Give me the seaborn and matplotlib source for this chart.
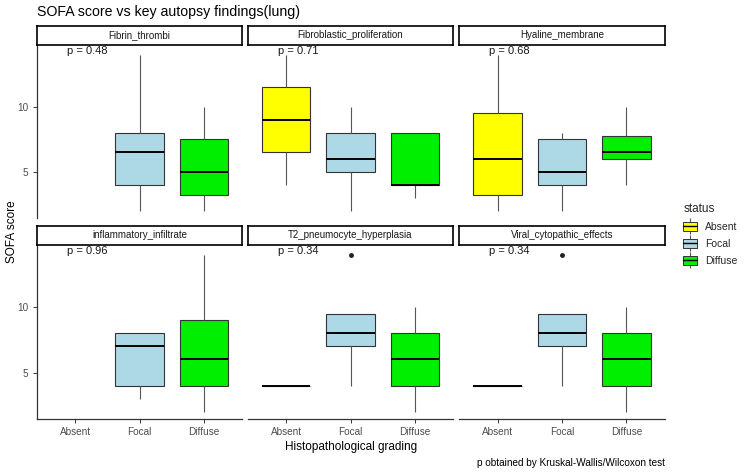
import pandas as pd
import matplotlib.pyplot as plt
import seaborn as sns
from matplotlib.patches import Patch
from matplotlib.lines import Line2D

# data (SOFA scores per grading group)
findings = ['Fibrin_thrombi', 'Fibroblastic_proliferation', 'Hyaline_membrane',
            'inflammatory_infiltrate', 'T2_pneumocyte_hyperplasia', 'Viral_cytopathic_effects']
p_values = ['0.48', '0.71', '0.68', '0.96', '0.34', '0.34']
status_levels = ['Absent', 'Focal', 'Diffuse']

fibrin_thrombi = {'Absent': [], 'Focal': [2, 4, 4, 6, 7, 8, 8, 14], 'Diffuse': [2, 3, 4, 6, 8, 10]}
fibroblastic = {'Absent': [4, 6, 8, 10, 12, 14], 'Focal': [2, 4, 5, 5, 6, 7, 8, 9, 10], 'Diffuse': [3, 4, 4, 8, 8]}
hyaline = {'Absent': [2, 3, 4, 8, 10, 14], 'Focal': [2, 4, 4, 6, 8, 8], 'Diffuse': [4, 6, 6, 7, 8, 10]}
inflammatory = {'Absent': [], 'Focal': [3, 4, 7, 8, 8], 'Diffuse': [2, 4, 4, 6, 8, 10, 14]}
t2_pneumocyte = {'Absent': [4, 4], 'Focal': [4, 7, 8, 9.5, 14], 'Diffuse': [2, 4, 6, 8, 10]}
viral_cyto = {'Absent': [4, 4], 'Focal': [4, 7, 8, 9.5, 14], 'Diffuse': [2, 4, 6, 8, 10]}

groups = [fibrin_thrombi, fibroblastic, hyaline, inflammatory, t2_pneumocyte, viral_cyto]
palette = {'Absent': '#FFFF00', 'Focal': '#ADD8E6', 'Diffuse': '#00EE00'}

rows = []
for name, g in zip(findings, groups):
    for st in status_levels:
        for v in g[st]:
            rows.append({'finding': name, 'status': st, 'score': v})
data = pd.DataFrame(rows)

sns.set_theme(style='white')
plt.rcParams['font.family'] = ['Liberation Sans', 'DejaVu Sans']

W, H = 750, 475
fig = plt.figure(figsize=(7.5, 4.75), dpi=100)

def frac(x0, y0, x1, y1):
    return [x0 / W, 1 - y1 / H, (x1 - x0) / W, (y1 - y0) / H]

cols = [(37, 242), (248, 453), (459, 665)]
rows_px = [((26, 45), (45, 218)), ((226, 245), (245, 419))]

for i, name in enumerate(findings):
    r, c = divmod(i, 3)
    x0, x1 = cols[c]
    (s0, s1), (p0, p1) = rows_px[r]
    ax = fig.add_axes(frac(x0, p0, x1, p1))
    sub = data[data['finding'] == name]
    sns.boxplot(data=sub, x='status', y='score', hue='status', order=status_levels,
                hue_order=status_levels, palette=palette, saturation=1, width=0.75,
                linecolor='#333333', linewidth=0.8, showcaps=False, legend=False,
                whiskerprops=dict(color='#555555', lw=0.8),
                medianprops=dict(color='black', lw=1.4),
                flierprops=dict(marker='o', markersize=2.5, markerfacecolor='#222222',
                                markeredgecolor='#222222'),
                ax=ax)
    ax.set_xlim(-0.6, 2.6)
    ax.set_ylim(1.45, 14.75)
    ax.set_yticks([5, 10])
    ax.set_xlabel('')
    ax.set_ylabel('')
    for sp in ['top', 'right']:
        ax.spines[sp].set_visible(False)
    ax.spines['left'].set_visible(c == 0)
    ax.spines['bottom'].set_visible(r == 1)
    for sp in ['left', 'bottom']:
        ax.spines[sp].set_color('#333333')
        ax.spines[sp].set_linewidth(0.9)
    ax.tick_params(axis='both', length=3, width=0.7, color='#333333',
                   labelsize=7.2, labelcolor='#4d4d4d', pad=3)
    if c != 0:
        ax.tick_params(axis='y', left=False, labelleft=False)
    else:
        ax.tick_params(axis='y', left=True)
    if r == 0:
        ax.tick_params(axis='x', bottom=False, labelbottom=False)
    else:
        ax.tick_params(axis='x', bottom=True)
    ax.text(0.146, 0.965, 'p = ' + p_values[i], transform=ax.transAxes,
            ha='left', va='center', fontsize=8, color='#1a1a1a')

    # facet strip
    sax = fig.add_axes(frac(x0, s0, x1, s1))
    sax.set_xticks([])
    sax.set_yticks([])
    sax.set_facecolor('white')
    for sp in sax.spines.values():
        sp.set_visible(True)
        sp.set_color('black')
        sp.set_linewidth(1.2)
    sax.text(0.5, 0.5, name, ha='center', va='center', fontsize=7, color='#1a1a1a',
             transform=sax.transAxes)

fig.text(37 / W, 1 - 12 / H, 'SOFA score vs key autopsy findings(lung)', fontsize=10.2,
         ha='left', va='center', color='black')
fig.text(12 / W, 1 - 232 / H, 'SOFA score', rotation=90, fontsize=8.5,
         ha='center', va='center', color='black')
fig.text(351 / W, 1 - 447 / H, 'Histopathological grading', fontsize=8.5,
         ha='center', va='center', color='black')
fig.text(665 / W, 1 - 463 / H, 'p obtained by Kruskal-Wallis/Wilcoxon test', fontsize=7.2,
         ha='right', va='center', color='black')

handles = []
for st in status_levels:
    handles.append((Line2D([], [], marker='|', markersize=12, color='#555555', linestyle='none', markeredgewidth=0.8),
                    Patch(facecolor=palette[st], edgecolor='#333333', linewidth=0.7),
                    Line2D([], [], color='black', lw=1.0)))
leg = fig.legend(handles, status_levels, title='status', loc='upper left',
                 bbox_to_anchor=(676 / W, 1 - 196 / H), frameon=False, fontsize=7.5,
                 title_fontsize=8.5, handlelength=1.3, handleheight=1.0,
                 labelspacing=0.65, handletextpad=0.8, borderpad=0.2)
leg._legend_box.align = 'left'

fig.savefig('out.png', dpi=100)
